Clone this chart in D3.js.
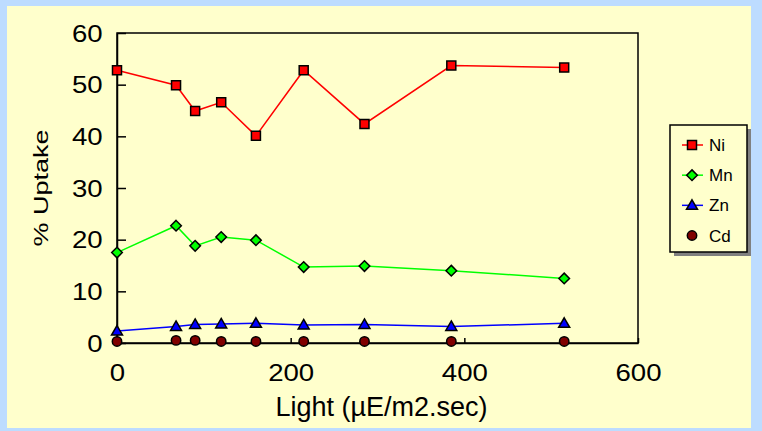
<!DOCTYPE html>
<html>
<head>
<meta charset="utf-8">
<script src="https://cdn.jsdelivr.net/npm/d3@7/dist/d3.min.js"></script>
<style>
  html, body { margin: 0; padding: 0; background: #BDDCFF; }
  svg { display: block; }
  text { font-family: "Liberation Sans", Arial, Helvetica, sans-serif; fill: #000; }
</style>
</head>
<body>
<svg id="chart" width="762" height="431"></svg>
<script>
// Light intensity (µE/m2.sec) at each sampling point
const light = [0, 68, 90, 120, 160, 215, 285, 385, 515];
// Percent uptake of each metal
const ni = [52.8, 49.9, 44.9, 46.6, 40.1, 52.8, 42.4, 53.7, 53.3];
const mn = [17.5, 22.7, 18.8, 20.5, 19.9, 14.7, 14.9, 14.0, 12.5];
const zn = [2.3, 3.2, 3.6, 3.7, 3.8, 3.5, 3.6, 3.2, 3.8];
const cd = [0.3, 0.5, 0.5, 0.3, 0.3, 0.3, 0.3, 0.3, 0.3];
const seriesNames = ["Ni", "Mn", "Zn", "Cd"];
const xTicks = [0, 200, 400, 600];
const yTicks = [0, 10, 20, 30, 40, 50, 60];

const series = [
  { name: seriesNames[0], values: ni, line: "#FF0000", fill: "#FF0000", shape: "square", drawLine: true },
  { name: seriesNames[1], values: mn, line: "#00FF00", fill: "#00FF00", shape: "diamond", drawLine: true },
  { name: seriesNames[2], values: zn, line: "#0000FF", fill: "#0000FF", shape: "triangle", drawLine: true },
  { name: seriesNames[3], values: cd, line: "none", fill: "#800000", shape: "circle", drawLine: false }
];

const svg = d3.select("#chart");
const W = 762, H = 431;
const plot = { left: 117, right: 638, top: 33, bottom: 343 };

// page panel
svg.append("rect").attr("x", 0).attr("y", 0).attr("width", W).attr("height", H).attr("fill", "#BDDCFF");
svg.append("rect").attr("x", 7).attr("y", 6).attr("width", 744).attr("height", 422).attr("fill", "#FFFFCC");

const x = d3.scaleLinear().domain([0, 600]).range([plot.left, plot.right]);
const y = d3.scaleLinear().domain([0, 60]).range([plot.bottom, plot.top]);

// plot area frame
svg.append("rect")
  .attr("x", plot.left).attr("y", plot.top)
  .attr("width", plot.right - plot.left).attr("height", plot.bottom - plot.top)
  .attr("fill", "#FFFFCC").attr("stroke", "#000").attr("stroke-width", 1.5);

// axes with inward ticks
const yAxis = svg.append("g")
  .attr("transform", `translate(${plot.left},0)`)
  .call(d3.axisLeft(y).tickValues(yTicks).tickSize(-9).tickPadding(12).tickSizeOuter(0));
const xAxis = svg.append("g")
  .attr("transform", `translate(0,${plot.bottom})`)
  .call(d3.axisBottom(x).tickValues(xTicks).tickSize(-5).tickPadding(22).tickSizeOuter(0));

[yAxis, xAxis].forEach(g => {
  g.select(".domain").attr("stroke", "#000").attr("stroke-width", 1.5);
  g.selectAll(".tick line").attr("stroke", "#000").attr("stroke-width", 1.5);
  g.selectAll(".tick text")
    .style("font-family", '"Liberation Sans", Arial, sans-serif')
    .style("font-size", "23px")
    .attr("fill", "#000");
});
yAxis.selectAll(".tick text").attr("transform", "scale(1.2,1)").attr("dy", "0.36em");
xAxis.selectAll(".tick text").attr("transform", "scale(1.2,1)");

// axis titles
svg.append("text")
  .attr("x", (plot.left + plot.right) / 2 + 4).attr("y", 416)
  .attr("text-anchor", "middle")
  .style("font-size", "27px")
  .text("Light (µE/m2.sec)");

svg.append("text")
  .attr("transform", "translate(48,188) rotate(-90) scale(1.35,1)")
  .attr("text-anchor", "middle")
  .style("font-size", "20px")
  .text("% Uptake");

// marker shapes
function markerPath(shape) {
  switch (shape) {
    case "square": return "M-4.5,-4.5H4.5V4.5H-4.5Z";
    case "diamond": return "M0,-5.3L5.3,0L0,5.3L-5.3,0Z";
    case "triangle": return "M0,-5.5L5.5,4L-5.5,4Z";
    default: return null;
  }
}
function drawMarker(g, shape, fill) {
  if (shape === "circle") {
    g.append("circle").attr("r", 4.7).attr("fill", fill).attr("stroke", "#000").attr("stroke-width", 1.5);
  } else {
    g.append("path").attr("d", markerPath(shape)).attr("fill", fill).attr("stroke", "#000").attr("stroke-width", 1.5);
  }
}

const lineGen = d3.line().x(d => x(d[0])).y(d => y(d[1]));

series.forEach(s => {
  const pts = light.map((l, i) => [l, s.values[i]]);
  if (s.drawLine) {
    svg.append("path").datum(pts).attr("d", lineGen)
      .attr("fill", "none").attr("stroke", s.line).attr("stroke-width", 1.5);
  }
});
series.forEach(s => {
  const pts = light.map((l, i) => [l, s.values[i]]);
  pts.forEach(p => {
    const g = svg.append("g").attr("transform", `translate(${x(p[0])},${y(p[1])})`);
    drawMarker(g, s.shape, s.fill);
  });
});

// legend
const lg = { x: 670, y: 125, w: 77, h: 127 };
svg.append("rect").attr("x", lg.x + 4).attr("y", lg.y + 4).attr("width", lg.w).attr("height", lg.h).attr("fill", "#808080");
svg.append("rect").attr("x", lg.x).attr("y", lg.y).attr("width", lg.w).attr("height", lg.h)
  .attr("fill", "#FFFFCC").attr("stroke", "#000").attr("stroke-width", 1.5);
const legendY = d3.scalePoint().domain(seriesNames).range([145, 235.5]);
series.forEach(s => {
  const cy = legendY(s.name);
  if (s.drawLine) {
    svg.append("line").attr("x1", 682).attr("x2", 703).attr("y1", cy).attr("y2", cy)
      .attr("stroke", s.line).attr("stroke-width", 1.5);
  }
  const g = svg.append("g").attr("transform", `translate(692,${cy})`);
  drawMarker(g, s.shape, s.fill);
  svg.append("text").attr("x", 709).attr("y", cy).attr("dy", "0.36em")
    .style("font-size", "17px").text(s.name);
});
</script>
</body>
</html>
